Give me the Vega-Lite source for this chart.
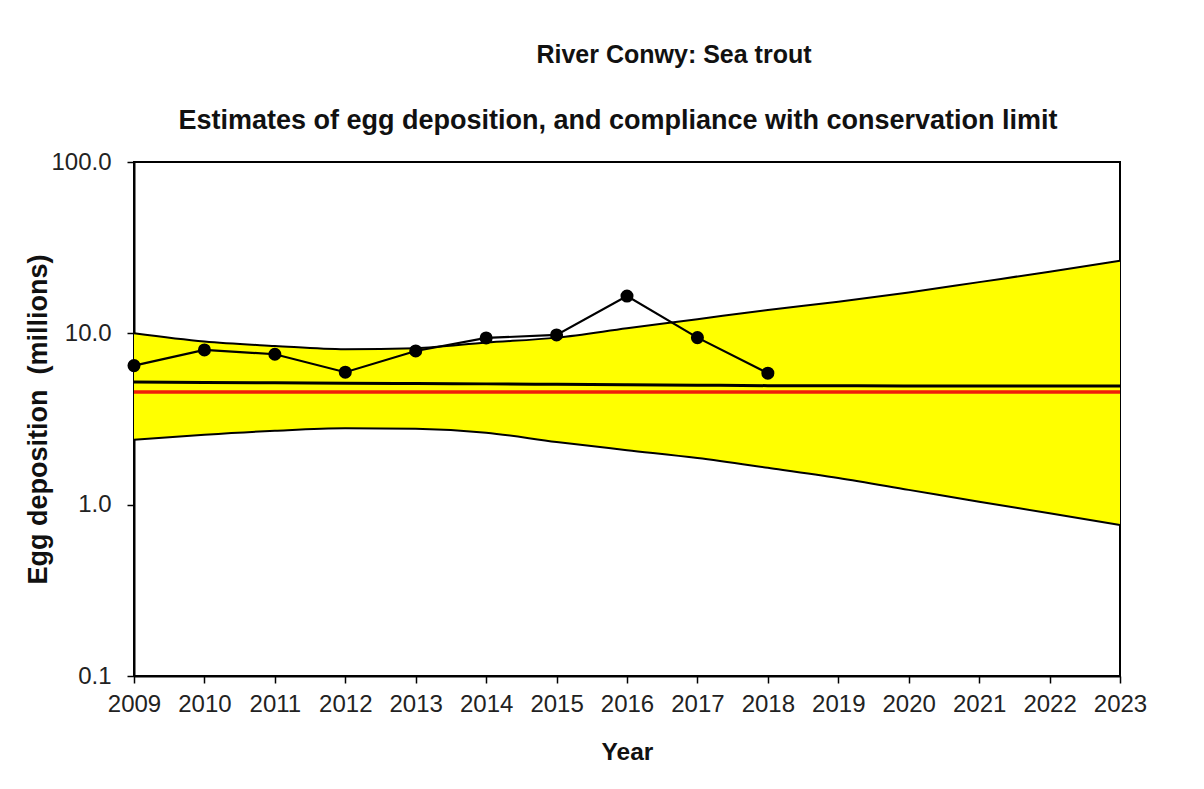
{
  "$schema": "https://vega.github.io/schema/vega-lite/v6.json",
  "background": "white",
  "autosize": {"type": "pad"},
  "padding": {"left": 23, "top": 43, "right": 10, "bottom": 10},
  "title": {
    "text": "River Conwy: Sea trout",
    "anchor": "middle",
    "frame": "group",
    "dx": 47,
    "fontSize": 25,
    "fontWeight": "bold",
    "color": "#111111",
    "offset": 38
  },
  "datasets": {
    "band": [
      {"year": 2009, "lower": 2.39, "central": 5.20, "upper": 10.0, "limit": 4.55},
      {"year": 2010, "lower": 2.56, "central": 5.17, "upper": 8.95, "limit": 4.55},
      {"year": 2011, "lower": 2.70, "central": 5.14, "upper": 8.44, "limit": 4.55},
      {"year": 2012, "lower": 2.79, "central": 5.11, "upper": 8.07, "limit": 4.55},
      {"year": 2013, "lower": 2.77, "central": 5.09, "upper": 8.19, "limit": 4.55},
      {"year": 2014, "lower": 2.63, "central": 5.07, "upper": 8.83, "limit": 4.55},
      {"year": 2015, "lower": 2.32, "central": 5.04, "upper": 9.44, "limit": 4.55},
      {"year": 2016, "lower": 2.08, "central": 5.01, "upper": 10.7, "limit": 4.55},
      {"year": 2017, "lower": 1.87, "central": 4.98, "upper": 12.1, "limit": 4.55},
      {"year": 2018, "lower": 1.64, "central": 4.95, "upper": 13.7, "limit": 4.55},
      {"year": 2019, "lower": 1.43, "central": 4.94, "upper": 15.3, "limit": 4.55},
      {"year": 2020, "lower": 1.22, "central": 4.93, "upper": 17.3, "limit": 4.55},
      {"year": 2021, "lower": 1.04, "central": 4.93, "upper": 19.9, "limit": 4.55},
      {"year": 2022, "lower": 0.89, "central": 4.92, "upper": 22.9, "limit": 4.55},
      {"year": 2023, "lower": 0.76, "central": 4.92, "upper": 26.5, "limit": 4.55}
    ],
    "eggs": [
      {"year": 2009, "eggs": 6.48},
      {"year": 2010, "eggs": 8.00},
      {"year": 2011, "eggs": 7.55},
      {"year": 2012, "eggs": 5.93},
      {"year": 2013, "eggs": 7.89},
      {"year": 2014, "eggs": 9.40},
      {"year": 2015, "eggs": 9.79},
      {"year": 2016, "eggs": 16.5},
      {"year": 2017, "eggs": 9.44},
      {"year": 2018, "eggs": 5.85}
    ]
  },
  "vconcat": [
    {
      "width": 986,
      "height": 514,
      "title": {
        "text": "Estimates of egg deposition, and compliance with conservation limit",
        "anchor": "middle",
        "frame": "group",
        "dx": -9,
        "fontSize": 27,
        "fontWeight": "bold",
        "color": "#111111",
        "offset": 15
      },
      "encoding": {
        "x": {
          "field": "year",
          "type": "quantitative",
          "scale": {"domain": [2009, 2023], "nice": false, "zero": false},
          "axis": {
            "title": "Year",
            "values": [2009, 2010, 2011, 2012, 2013, 2014, 2015, 2016, 2017, 2018, 2019, 2020, 2021, 2022, 2023],
            "format": "d",
            "labelFlush": false,
            "labelOverlap": false,
            "labelPadding": 9,
            "titlePadding": 24,
            "titleFontSize": 24.5
          }
        }
      },
      "layer": [
        {
          "data": {"name": "band"},
          "mark": {"type": "area", "color": "#FFFF00", "interpolate": "monotone", "opacity": 1},
          "encoding": {
            "y": {
              "field": "lower",
              "type": "quantitative",
              "scale": {"type": "log", "domain": [0.1, 100], "nice": false},
              "axis": {
                "title": "Egg deposition\u00a0 (millions)",
                "values": [0.1, 1, 10, 100],
                "format": ".1f",
                "labelFlush": false,
                "labelOverlap": false,
                "labelPadding": 16,
                "titlePadding": -2,
                "titleFontSize": 27
              }
            },
            "y2": {"field": "upper"}
          }
        },
        {
          "data": {"name": "band"},
          "mark": {"type": "line", "color": "black", "strokeWidth": 2, "interpolate": "monotone"},
          "encoding": {"y": {"field": "upper", "type": "quantitative"}}
        },
        {
          "data": {"name": "band"},
          "mark": {"type": "line", "color": "black", "strokeWidth": 2, "interpolate": "monotone"},
          "encoding": {"y": {"field": "lower", "type": "quantitative"}}
        },
        {
          "data": {"name": "band"},
          "mark": {"type": "line", "color": "black", "strokeWidth": 3, "interpolate": "monotone"},
          "encoding": {"y": {"field": "central", "type": "quantitative"}}
        },
        {
          "data": {"name": "band"},
          "mark": {"type": "line", "color": "#F01E0A", "strokeWidth": 3.5},
          "encoding": {"y": {"field": "limit", "type": "quantitative"}}
        },
        {
          "data": {"name": "eggs"},
          "mark": {"type": "line", "color": "black", "strokeWidth": 2.2},
          "encoding": {"y": {"field": "eggs", "type": "quantitative"}}
        },
        {
          "data": {"name": "eggs"},
          "mark": {"type": "point", "filled": true, "color": "black", "opacity": 1, "size": 170, "shape": "circle"},
          "encoding": {"y": {"field": "eggs", "type": "quantitative"}}
        }
      ]
    }
  ],
  "config": {
    "font": "Liberation Sans",
    "view": {"stroke": "black", "strokeWidth": 2},
    "axis": {
      "grid": false,
      "domainColor": "black",
      "domainWidth": 2,
      "tickColor": "black",
      "tickWidth": 1.5,
      "tickSize": 7,
      "labelFont": "Liberation Sans",
      "labelFontSize": 24,
      "labelColor": "#222222",
      "titleFont": "Liberation Sans",
      "titleFontWeight": "bold",
      "titleColor": "#111111"
    }
  }
}
